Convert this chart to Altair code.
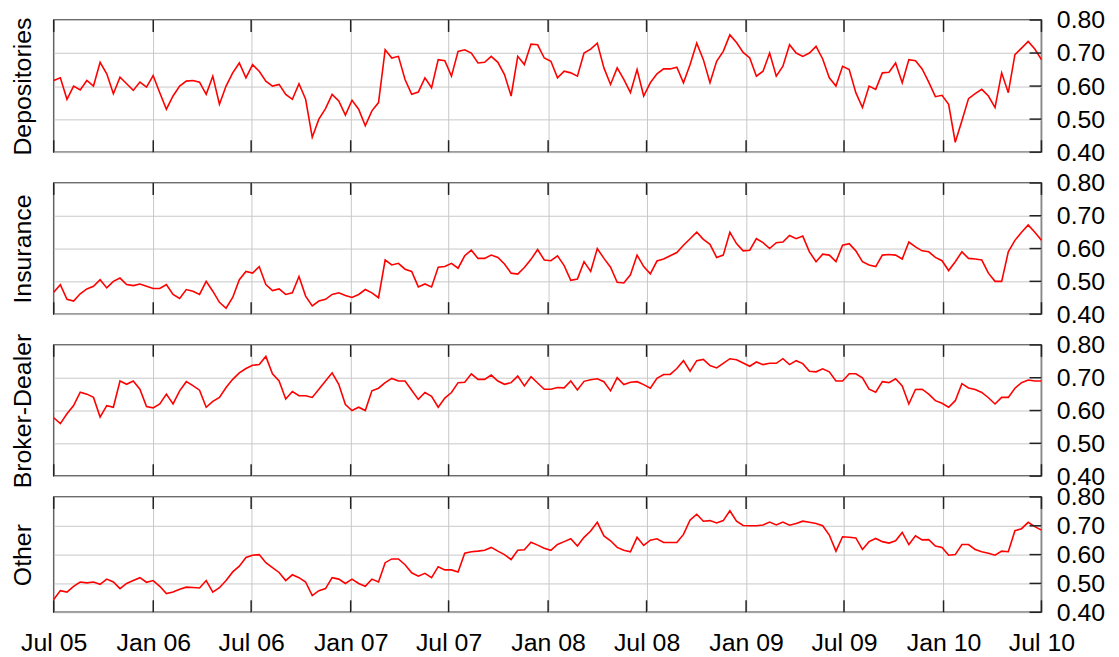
import altair as alt
import pandas as pd

FONT = "Liberation Sans"
W = 994

dates = pd.date_range("2005-07-01", "2010-07-01", periods=150)

depositories = [
    0.617, 0.625, 0.560, 0.600, 0.588, 0.617, 0.600, 0.672, 0.637, 0.577,
    0.627, 0.607, 0.587, 0.612, 0.597, 0.632, 0.580, 0.530, 0.570, 0.600,
    0.615, 0.617, 0.612, 0.575, 0.630, 0.545, 0.600, 0.640, 0.670, 0.625,
    0.665, 0.645, 0.615, 0.600, 0.605, 0.575, 0.560, 0.607, 0.560, 0.445,
    0.500, 0.532, 0.575, 0.555, 0.512, 0.557, 0.530, 0.480, 0.525, 0.550,
    0.710, 0.685, 0.690,
    0.620, 0.575, 0.582, 0.625, 0.595, 0.680, 0.677,
    0.630, 0.705, 0.710, 0.700, 0.670, 0.672, 0.690, 0.672, 0.635, 0.570,
    0.690, 0.665, 0.727, 0.725, 0.685, 0.675, 0.625, 0.645, 0.640, 0.630,
    0.700, 0.712, 0.730, 0.655, 0.605, 0.655, 0.620, 0.580, 0.650, 0.570,
    0.610, 0.637, 0.652, 0.652, 0.657, 0.610, 0.665, 0.730, 0.680, 0.610,
    0.675, 0.705, 0.755, 0.732, 0.702, 0.685, 0.630,
    0.645, 0.700, 0.630,
    0.660, 0.725, 0.700, 0.690, 0.700, 0.720, 0.682, 0.625, 0.600, 0.660,
    0.650, 0.580, 0.535, 0.600, 0.590, 0.640, 0.642, 0.670, 0.610, 0.680,
    0.677, 0.652, 0.612, 0.568, 0.572, 0.545, 0.430, 0.495, 0.562, 0.577,
    0.590, 0.570, 0.535, 0.640, 0.580, 0.695, 0.715, 0.735, 0.712, 0.680,
]

insurance = [
    0.467, 0.490, 0.445, 0.440, 0.462, 0.477, 0.485, 0.505, 0.480, 0.500,
    0.510, 0.490, 0.487, 0.492, 0.485, 0.478, 0.478, 0.490, 0.460, 0.448,
    0.475, 0.470, 0.460, 0.500, 0.470, 0.436, 0.418, 0.451, 0.505, 0.530,
    0.525, 0.545, 0.490, 0.472, 0.477, 0.460, 0.465, 0.515, 0.455, 0.425,
    0.440, 0.445, 0.460, 0.465, 0.457, 0.451, 0.460, 0.475, 0.465, 0.450,
    0.565, 0.550, 0.555,
    0.537, 0.530, 0.483, 0.492, 0.483, 0.543, 0.545,
    0.555, 0.540, 0.578, 0.595, 0.570, 0.570, 0.580, 0.573, 0.553, 0.525,
    0.522, 0.542, 0.567, 0.597, 0.565, 0.563, 0.578, 0.548, 0.503, 0.507,
    0.560, 0.530, 0.600, 0.570, 0.543, 0.497, 0.495, 0.520, 0.580, 0.545,
    0.523, 0.562, 0.568, 0.578, 0.588, 0.610, 0.630, 0.650, 0.628, 0.613,
    0.573, 0.580, 0.650, 0.615, 0.593, 0.595, 0.630,
    0.618, 0.600, 0.618,
    0.620, 0.640, 0.630, 0.638, 0.590, 0.560, 0.583, 0.580, 0.560, 0.610,
    0.615, 0.593, 0.560, 0.550, 0.545, 0.580, 0.582, 0.580, 0.568, 0.620,
    0.605, 0.593, 0.590, 0.573, 0.563, 0.533, 0.560, 0.590, 0.570, 0.568,
    0.565, 0.525, 0.500, 0.500, 0.590, 0.625, 0.650, 0.672, 0.650, 0.625,
]

broker_dealer = [
    0.578, 0.560, 0.590, 0.615, 0.656, 0.650, 0.640, 0.580, 0.615, 0.610,
    0.690, 0.680, 0.690, 0.665, 0.612, 0.608, 0.620, 0.650, 0.620, 0.660,
    0.688, 0.676, 0.662, 0.610, 0.628, 0.640, 0.670, 0.695, 0.715, 0.728,
    0.738, 0.740, 0.765, 0.712, 0.690, 0.635, 0.658, 0.645, 0.645, 0.640,
    0.665, 0.690, 0.715, 0.680, 0.618, 0.600, 0.610, 0.600, 0.660, 0.668,
    0.685, 0.698, 0.690,
    0.690, 0.662, 0.634, 0.655, 0.643, 0.610, 0.638,
    0.655, 0.685, 0.686, 0.712, 0.695, 0.695, 0.708, 0.690, 0.680, 0.685,
    0.705, 0.675, 0.703, 0.684, 0.665, 0.665, 0.670, 0.669, 0.690, 0.663,
    0.689, 0.694, 0.697, 0.688, 0.660, 0.700, 0.679, 0.686, 0.688, 0.679,
    0.668, 0.698, 0.710, 0.710, 0.728, 0.752, 0.720, 0.752, 0.756, 0.737,
    0.730, 0.744, 0.758, 0.755, 0.745, 0.735, 0.748,
    0.740, 0.744, 0.744,
    0.758, 0.740, 0.752, 0.743, 0.720, 0.718, 0.727, 0.718, 0.690, 0.690,
    0.712, 0.712, 0.700, 0.665, 0.656, 0.688, 0.685, 0.697, 0.675, 0.620,
    0.664, 0.665, 0.650, 0.630, 0.622, 0.610, 0.630, 0.682, 0.669, 0.664,
    0.655, 0.639, 0.620, 0.640, 0.640, 0.668, 0.685, 0.693, 0.690, 0.690,
]

other = [
    0.444, 0.475, 0.470, 0.490, 0.505, 0.502, 0.505, 0.497, 0.515, 0.505,
    0.482, 0.500, 0.510, 0.520, 0.504, 0.510, 0.490, 0.465, 0.470, 0.480,
    0.487, 0.486, 0.484, 0.510, 0.470, 0.485, 0.510, 0.540, 0.560, 0.590,
    0.598, 0.600, 0.572, 0.555, 0.538, 0.510, 0.530, 0.520, 0.505, 0.458,
    0.475, 0.482, 0.520, 0.515, 0.500, 0.515, 0.500, 0.490, 0.515, 0.505,
    0.572, 0.585, 0.585,
    0.565, 0.537, 0.525, 0.535, 0.520, 0.558, 0.547,
    0.547, 0.540, 0.605, 0.610, 0.612, 0.615, 0.625, 0.612, 0.600, 0.583,
    0.615, 0.617, 0.643, 0.633, 0.622, 0.615, 0.635, 0.645, 0.655, 0.630,
    0.660, 0.682, 0.712, 0.665, 0.648, 0.625, 0.615, 0.610, 0.660, 0.632,
    0.650, 0.655, 0.642, 0.642, 0.642, 0.670, 0.720, 0.740, 0.716, 0.718,
    0.710, 0.718, 0.752, 0.716, 0.701, 0.700, 0.700,
    0.703, 0.713, 0.703,
    0.713, 0.702, 0.708, 0.716, 0.712, 0.708, 0.700, 0.668, 0.612, 0.662,
    0.660, 0.658, 0.618, 0.645, 0.656, 0.645, 0.640, 0.648, 0.677, 0.635,
    0.665, 0.651, 0.652, 0.630, 0.625, 0.598, 0.600, 0.635, 0.635, 0.618,
    0.610, 0.605, 0.598, 0.612, 0.610, 0.683, 0.690, 0.712, 0.697, 0.685,
]

panel_titles = ["Depositories", "Insurance", "Broker-Dealer", "Other"]
panel_heights = [133, 132, 132, 116]

x_tick_months = [(2005, 7), (2006, 1), (2006, 7), (2007, 1), (2007, 7), (2008, 1),
                 (2008, 7), (2009, 1), (2009, 7), (2010, 1), (2010, 7)]
y_tick_values = [0.40, 0.50, 0.60, 0.70, 0.80]

x_axis_values = [alt.DateTime(year=y, month=m, date=1) for y, m in x_tick_months]
x_tick_df = pd.DataFrame({"date": [pd.Timestamp(year=y, month=m, day=1) for y, m in x_tick_months]})
y_tick_df = pd.DataFrame({"v": y_tick_values})

x_scale = alt.Scale(domain=[alt.DateTime(year=2005, month=7, date=1),
                            alt.DateTime(year=2010, month=7, date=1)], nice=False)
y_scale = alt.Scale(domain=[0.4, 0.8], nice=False, zero=False)

GRID = "#c8c8c8"
TICK = "#222222"
TL = 12


def panel(values, title, height, last):
    df = pd.DataFrame({"date": dates, "v": values})
    x_axis = alt.Axis(values=x_axis_values, format="%b %y", labels=last, ticks=False,
                      tickSize=0, domain=False, grid=True, gridColor=GRID, gridWidth=1,
                      title=None, labelFontSize=25, labelFont=FONT, labelColor="black",
                      labelPadding=18, labelOverlap=False, labelFlush=False)
    y_axis = alt.Axis(orient="right", values=y_tick_values, format=".2f", ticks=False,
                      tickSize=0, domain=False, grid=True, gridColor=GRID, gridWidth=1,
                      labelFontSize=25, labelFont=FONT, labelColor="black", labelPadding=15,
                      labelFlush=False, labelOverlap=False, labelBound=False,
                      title=title, titleAngle=270, titleX=-(W + 31), titleY=height / 2,
                      titleAlign="center", titleBaseline="middle", titleFontSize=25,
                      titleFont=FONT, titleFontWeight="normal", titleColor="black")
    xenc = alt.X("date:T", scale=x_scale, axis=x_axis)
    yenc = alt.Y("v:Q", scale=y_scale, axis=y_axis)
    line = alt.Chart(df).mark_line(color="#ff0000", strokeWidth=1.6).encode(x=xenc, y=yenc)
    top_ticks = alt.Chart(x_tick_df).mark_rule(color=TICK, strokeWidth=1.5).encode(
        x=xenc, y=alt.value(0), y2=alt.value(TL))
    bottom_ticks = alt.Chart(x_tick_df).mark_rule(color=TICK, strokeWidth=1.5).encode(
        x=xenc, y=alt.value(height - TL), y2=alt.value(height))
    right_ticks = alt.Chart(y_tick_df).mark_rule(color=TICK, strokeWidth=1.5).encode(
        y=yenc, x=alt.value(W - TL), x2=alt.value(W))
    return alt.layer(line, top_ticks, bottom_ticks, right_ticks).properties(width=W, height=height)


series = [depositories, insurance, broker_dealer, other]
panels = [panel(series[i], panel_titles[i], panel_heights[i], i == 3) for i in range(4)]

upper = alt.vconcat(panels[0], panels[1], panels[2], spacing=31, bounds="flush")
chart = alt.vconcat(upper, panels[3], spacing=-6, bounds="full").properties(
    padding={"left": 2, "top": -3, "right": 5, "bottom": 5},
    background="white",
).configure_view(stroke="#3a3a3a", strokeWidth=1.5)

chart.save("out.html", embed_options={"renderer": "svg", "actions": False})
